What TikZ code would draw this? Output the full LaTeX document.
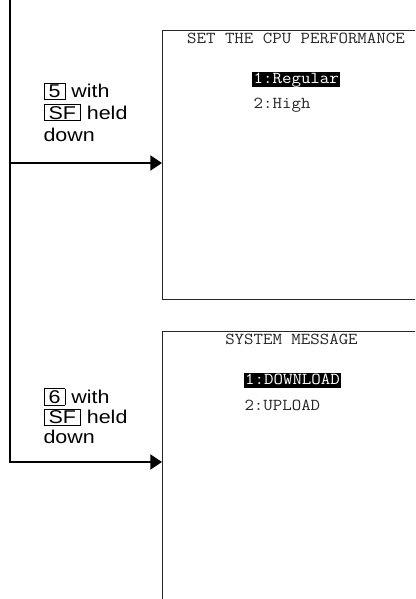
\documentclass[tikz,border=0pt]{standalone}
\usepackage{fontspec}
\usetikzlibrary{arrows.meta}
\newfontfamily\monofnt[FakeStretch=1.1]{Latin Modern Mono}
\newfontfamily\lblfnt[FakeStretch=1.16]{Liberation Sans}
\newcommand\keycap[1]{{\setlength\fboxsep{0pt}\setlength\fboxrule{0.7pt}\fbox{\rule[-1.5pt]{0pt}{15.5pt}\hspace{4.3pt}#1\hspace{4.3pt}}}}
\tikzset{
  screen/.style={draw=black!85, line width=0.9pt, rectangle, anchor=north west, inner sep=0pt},
  mono/.style={font=\monofnt\fontsize{16.7}{18}\selectfont, inner xsep=1.5pt, inner ysep=0pt, text height=11.5pt, text depth=3.5pt, text=black!85},
  hilite/.style={mono, fill=black, text=white},
  lbl/.style={font=\lblfnt\fontsize{18.5}{22}\selectfont, anchor=base west, inner sep=0pt},
  flow/.style={line width=2pt, -{Triangle[length=11.7pt, width=15pt]}}
}
\begin{document}
\begin{tikzpicture}[x=1pt, y=-1pt]
\useasboundingbox (0,0) rectangle (415,599);
\clip (0,0) rectangle (415,599);
% screens
\node[screen, minimum width=280pt, minimum height=269pt] (s1) at (162,30) {};
\node[screen, minimum width=280pt, minimum height=300pt] (s2) at (162,330.7) {};
% screen 1 text
\node[mono] (t1) at (296,39.5) {SET THE CPU PERFORMANCE};
\node[hilite, anchor=west] (r1) at (252,79.5) {1:Regular};
\node[mono, anchor=west] (r2) at (252,105) {2:High};
% screen 2 text
\node[mono] (t2) at (291.5,340.7) {SYSTEM MESSAGE};
\node[hilite, anchor=west] (d1) at (243.5,380) {1:DOWNLOAD};
\node[mono, anchor=west] (d2) at (242.8,406.7) {2:UPLOAD};
% labels
\node[lbl] (l1a) at (43.3,97.7) {\keycap{5} with};
\node[lbl] (l1b) at (43.3,119) {\keycap{SF} held};
\node[lbl] (l1c) at (43.3,141.5) {down};
\node[lbl] (l2a) at (43.3,403) {\keycap{6} with};
\node[lbl] (l2b) at (43.3,423.5) {\keycap{SF} held};
\node[lbl] (l2c) at (43.3,443.3) {down};
% connectors
\coordinate (top) at (10,0);
\coordinate (br1) at (10,163);
\draw[flow] (top) |- (s2.west |- 0,462);
\draw[flow] (br1) -- (s1.west |- br1);
\end{tikzpicture}
\end{document}
